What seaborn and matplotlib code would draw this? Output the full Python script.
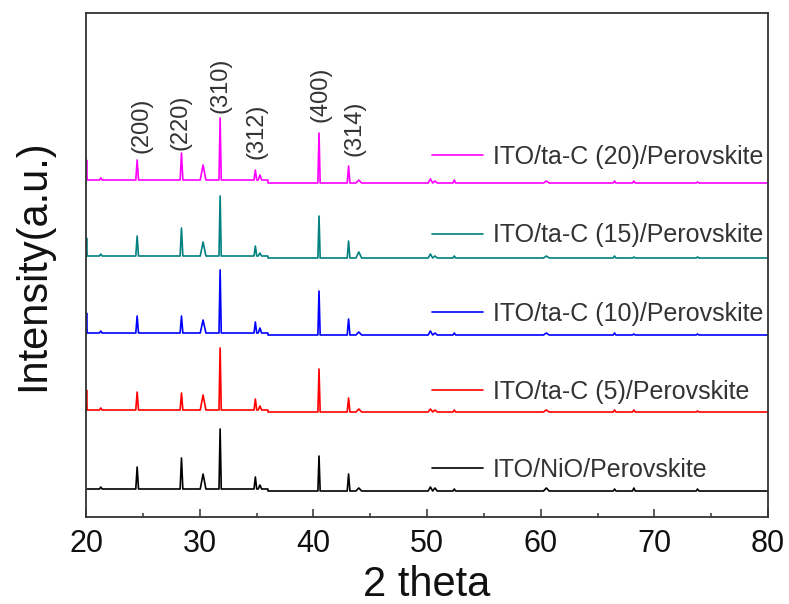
import numpy as np
import pandas as pd
import matplotlib
matplotlib.use("Agg")
import matplotlib.pyplot as plt
import seaborn as sns

# ---- data (intensity in arbitrary units, already offset per sample) ----
samples = ["ITO/NiO/Perovskite", "ITO/ta-C (5)/Perovskite", "ITO/ta-C (10)/Perovskite",
           "ITO/ta-C (15)/Perovskite", "ITO/ta-C (20)/Perovskite"]
colors = ["#000000", "#ff0000", "#0000ff", "#008080", "#ff00ff"]

# baseline level before / after 36 deg
base_left = [28, 107, 184, 261, 337]
base_right = [26, 105, 182, 259, 334]

# peak positions (2 theta) and heights above baseline for each sample
peak_pos = [20.05, 21.3, 24.5, 28.4, 30.3, 31.8, 34.9, 35.3, 40.5, 43.1, 44.0,
            50.3, 50.7, 52.4, 60.5, 66.5, 68.2, 73.8]
peak_width = [0.05, 0.12, 0.12, 0.12, 0.25, 0.1, 0.12, 0.15, 0.1, 0.12, 0.25,
              0.2, 0.2, 0.12, 0.25, 0.12, 0.12, 0.12]
h_nio = [0, 2, 22, 31, 15, 60, 12, 4, 35, 17, 3, 4, 3, 2, 3, 2, 3, 2]
h_5 = [20, 2, 18, 17, 15, 62, 11, 4, 43, 14, 3, 3, 2, 2, 2, 2, 2, 1]
h_10 = [20, 2, 17, 17, 13, 63, 11, 5, 44, 16, 3, 4, 2, 2, 2, 2, 1, 1]
h_15 = [18, 2, 20, 28, 14, 60, 10, 3, 42, 17, 6, 4, 2, 2, 2, 2, 1, 1]
h_20 = [20, 2, 20, 27, 15, 62, 10, 5, 50, 17, 3, 4, 2, 3, 2, 2, 2, 1]
heights = [h_nio, h_5, h_10, h_15, h_20]

hkl_labels = ["(200)", "(220)", "(310)", "(312)", "(400)", "(314)"]
hkl_x = [24.84, 28.27, 31.79, 34.96, 40.59, 43.58]
hkl_y = [364, 367, 404, 358, 395, 361]

x_start, x_end, step_x = 20.0, 80.0, 36.0

# ---- build long-form table of line vertices ----
rows = []
for s, bl, br, hs in zip(samples, base_left, base_right, heights):
    def base(x):
        return bl if x < step_x else br
    pts = [(x_start, base(x_start))]
    for p, w, h in zip(peak_pos, peak_width, hs):
        b = base(p)
        if p - w > x_start:
            pts.append((p - w, b))
        pts.append((p, b + h))
        pts.append((p + w, b))
    pts.append((step_x, bl))
    pts.append((step_x + 0.01, br))
    pts.append((x_end, br))
    pts.sort(key=lambda t: t[0])
    for x, y in pts:
        rows.append({"theta": x, "intensity": y, "sample": s})
df = pd.DataFrame(rows)

# ---- plot ----
sns.set_theme(style="ticks")
plt.rcParams["font.family"] = ["Liberation Sans", "DejaVu Sans"]

fig = plt.figure(figsize=(7.89, 6.04), dpi=100)
ax = fig.add_axes([86 / 789, 1 - 517 / 604, (768 - 86) / 789, (517 - 13) / 604])

sns.lineplot(data=df, x="theta", y="intensity", hue="sample", hue_order=samples,
             palette=colors, estimator=None, sort=False, lw=1.2, ax=ax)

ax.set_xlim(20, 80)
ax.set_ylim(0, 504)
ax.set_yticks([])
ax.set_xticks(np.arange(20, 81, 10))
ax.set_xticks(np.arange(25, 80, 10), minor=True)
ax.tick_params(axis="x", which="major", direction="in", length=6, width=1.1,
               labelsize=22, pad=9, colors="#333333", labelcolor="#111111")
ax.tick_params(axis="x", which="minor", direction="in", length=3, width=1.1,
               colors="#333333")
for sp in ax.spines.values():
    sp.set_visible(True)
    sp.set_color("#333333")
    sp.set_linewidth(1.3)

ax.set_xlabel("2 theta", fontsize=30, labelpad=4, color="#111111")
ax.set_ylabel("Intensity(a.u.)", fontsize=30, labelpad=24, color="#111111")

for lab, x, y in zip(hkl_labels, hkl_x, hkl_y):
    ax.text(x, y, lab, rotation=90, ha="center", va="bottom", fontsize=17,
            color="#333333")

handles, labels = ax.get_legend_handles_labels()
order = [4, 3, 2, 1, 0]
leg = ax.legend([handles[i] for i in order], [labels[i] for i in order],
                loc="upper left", bbox_to_anchor=(0.507, 0.738), frameon=False,
                fontsize=18, borderpad=0, borderaxespad=0, labelspacing=2.17,
                handlelength=2.05, handletextpad=0.4, labelcolor="#333333")

fig.savefig("out.png", dpi=100)
